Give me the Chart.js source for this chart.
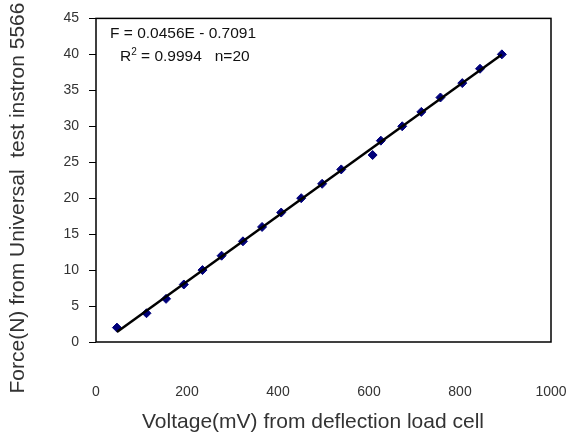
<!DOCTYPE html>
<html>
<head>
<meta charset="utf-8">
<script src="https://cdn.jsdelivr.net/npm/chart.js@4.4.1/dist/chart.umd.min.js"></script>
<style>
  html, body { margin: 0; padding: 0; background: #fff; }
  #wrap { width: 568px; height: 437px; }
</style>
</head>
<body>
<div id="wrap"><canvas id="myChart" width="568" height="437"></canvas></div>
<script>
// readings
var voltage = [46, 111, 154, 193, 234, 276, 323, 365, 407, 451, 497, 539, 608, 626, 673, 715, 757, 805, 844, 892];
var force   = [2, 4, 6, 8, 10, 12, 14, 16, 18, 20, 22, 24, 26, 28, 30, 32, 34, 36, 38, 40];
// ends of the fitted line as drawn
var trendX = [46, 892];
var trendY = [1.39, 39.97];
var xTicks = [0, 200, 400, 600, 800, 1000];
var yTicks = [0, 5, 10, 15, 20, 25, 30, 35, 40, 45];

var txtColor = '#333';
var font = 'Liberation Sans, Arial, sans-serif';

var pts = voltage.map(function(v, i){ return {x: v, y: force[i]}; });
var trend = trendX.map(function(v, i){ return {x: v, y: trendY[i]}; });

var extras = {
  id: 'extras',
  afterDraw: function(chart){
    var c = chart.ctx, a = chart.chartArea;
    c.save();
    // plot box
    c.strokeStyle = '#000';
    c.lineWidth = 1.5;
    c.strokeRect(a.left, a.top, a.right - a.left, a.bottom - a.top);

    c.fillStyle = '#111';
    c.textBaseline = 'alphabetic';
    c.textAlign = 'left';
    c.font = '15.5px ' + font;
    c.fillText('F = 0.0456E - 0.7091', 110, 38);
    c.fillText('R', 120, 61);
    var w = c.measureText('R').width;
    c.font = '10px ' + font;
    c.fillText('2', 120 + w, 55);
    var w2 = c.measureText('2').width;
    c.font = '15.5px ' + font;
    c.fillText(' = 0.9994   n=20', 120 + w + w2, 61);

    // axis titles
    c.fillStyle = txtColor;
    c.font = '21px ' + font;
    c.textAlign = 'center';
    c.textBaseline = 'middle';
    c.fillText('Voltage(mV) from deflection load cell', 313, 422);
    c.translate(18, 198);
    c.rotate(-Math.PI / 2);
    c.fillText('Force(N) from Universal  test instron 5566', 0, 0);
    c.restore();
  }
};

var ctx = document.getElementById('myChart').getContext('2d');
var myChart = new Chart(ctx, {
  type: 'scatter',
  data: {
    datasets: [{
      type: 'line',
      data: trend,
      borderColor: '#000',
      borderWidth: 2.5,
      pointRadius: 0,
      fill: false,
      order: 0
    }, {
      data: pts,
      pointStyle: 'rectRot',
      pointRadius: 4.5,
      backgroundColor: '#00007a',
      borderColor: '#00007a',
      borderWidth: 1,
      order: 1
    }]
  },
  options: {
    responsive: false,
    animation: false,
    layout: { padding: { left: 0, right: 17, top: 14, bottom: 0 } },
    plugins: { legend: { display: false }, tooltip: { enabled: false } },
    scales: {
      x: {
        type: 'linear',
        min: 0, max: 1000,
        afterBuildTicks: function(s){ s.ticks = xTicks.map(function(v){ return {value: v}; }); },
        afterFit: function(s){ s.height = 95; s.paddingLeft = 0; s.paddingRight = 0; },
        grid: { display: false, drawTicks: false },
        border: { display: false },
        ticks: {
          color: txtColor, font: { family: font, size: 14 }, padding: 42, maxRotation: 0,
          callback: function(v){ return String(v); }
        }
      },
      y: {
        min: 0, max: 45,
        afterBuildTicks: function(s){ s.ticks = yTicks.map(function(v){ return {value: v}; }); },
        afterFit: function(s){ s.width = 96; },
        grid: { drawOnChartArea: false, drawTicks: true, tickLength: 7, color: '#000', lineWidth: 1 },
        border: { display: false },
        ticks: { color: txtColor, font: { family: font, size: 14 }, padding: 10 }
      }
    }
  },
  plugins: [extras]
});
</script>
</body>
</html>
